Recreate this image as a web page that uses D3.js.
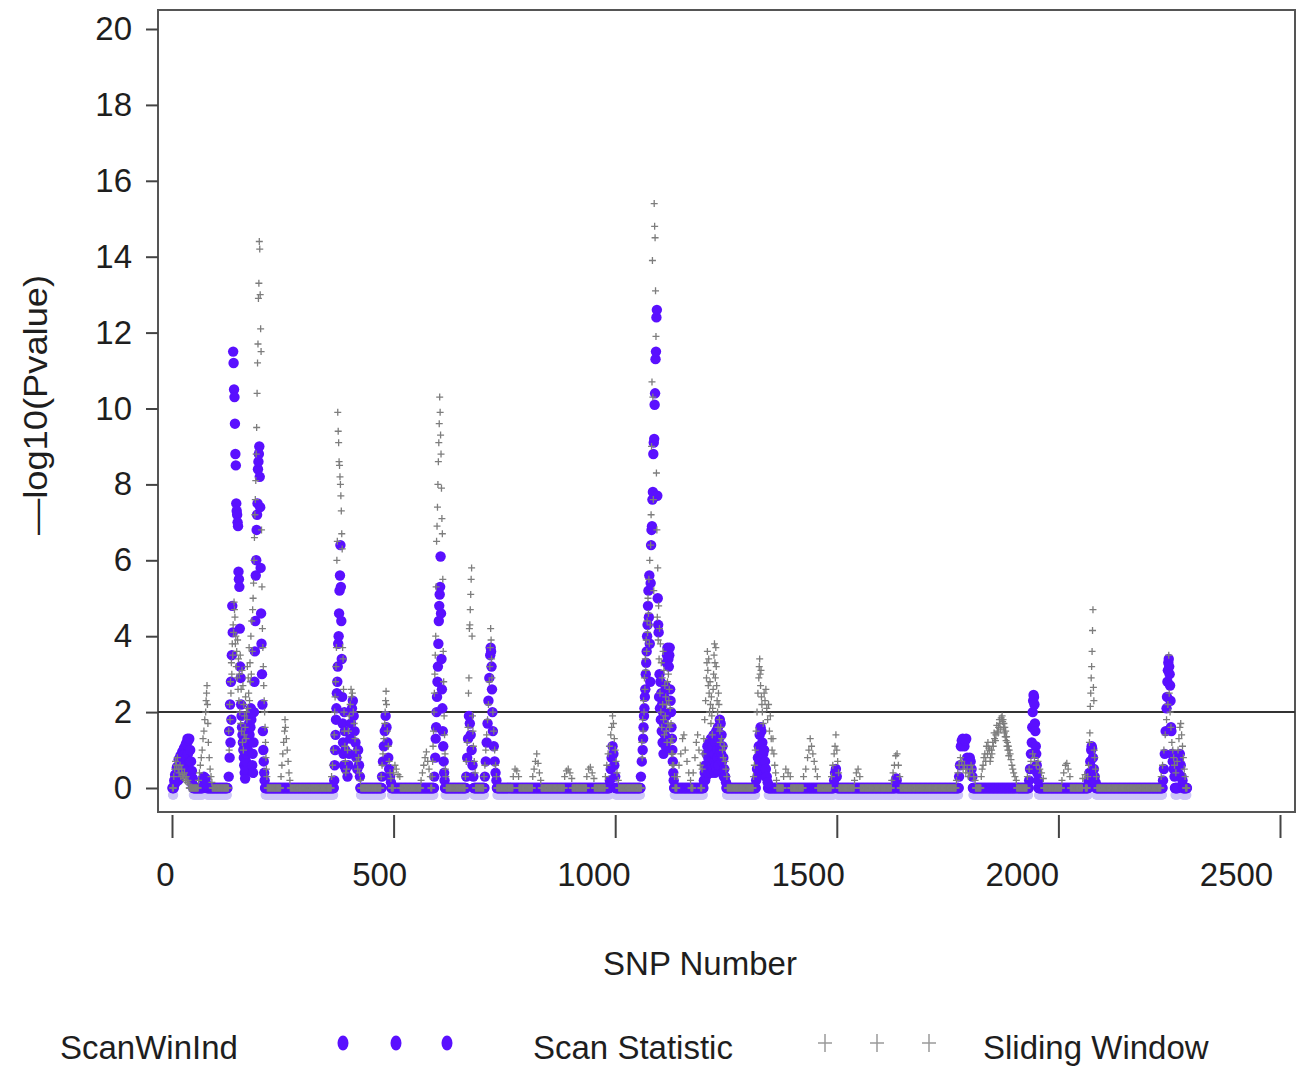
<!DOCTYPE html>
<html>
<head>
<meta charset="utf-8">
<script src="https://cdn.jsdelivr.net/npm/d3@7"></script>
<style>
  body { margin: 0; background: #fff; }
  svg text { font-family: "Liberation Sans", Arial, sans-serif; fill: #1e1e1e; }
</style>
</head>
<body>
<svg id="chart" width="1305" height="1070"></svg>
<script>
// ---- data ----------------------------------------------------------------
const xTicks = [0, 500, 1000, 1500, 2000, 2500];
const yTicks = [0, 2, 4, 6, 8, 10, 12, 14, 16, 18, 20];
const refLevel = 2;

// SNP ranges where the scan statistic is 0 (start, end inclusive)
const scanZeroRuns = [[1,4],[48,69],[79,125],[210,365],[425,473],[495,591],[616,663],[681,705],
  [733,987],[1001,1057],[1133,1199],[1251,1317],[1345,1493],[1501,1632],[1636,1775],[1807,1933],
  [1955,2067],[2085,2235],[2263,2269],[2281,2290]];

// scan statistic, SNP number and -log10(p) for non-zero SNPs
const scanPeaks = [
  [5,0.2],[6,0.1],[7,0.35],[8,0.15],[9,0.3],[10,0.2],[11,0.55],[12,0.3],[13,0.45],[14,0.2],[15,0.75],
  [16,0.4],[17,0.6],[18,0.3],[19,0.85],[20,0.5],[21,0.7],[22,0.35],[23,0.95],[24,0.6],[25,0.8],[26,0.4],
  [27,1.05],[28,0.7],[29,0.9],[30,0.5],[31,1.15],[32,0.8],[33,1.2],[34,0.6],[35,1.3],[36,0.9],[37,1.25],
  [38,0.5],[39,1.3],[40,0.7],[41,1.0],[42,0.3],[43,0.7],[44,0.2],[45,0.45],[46,0.1],[47,0.25],
  [70,0.25],[72,0.3],[74,0.2],[76,0.25],[78,0.1],
  [128,0.3],[129,1.5],[130,0.8],[131,2.2],[132,1.2],[133,2.8],[134,1.8],[135,3.5],[136,4.8],[137,4.1],
  [138,11.5],[139,11.2],[140,10.5],[141,10.3],[142,9.6],[143,8.8],[144,8.5],[145,7.5],[146,7.3],[147,7.2],
  [148,7.0],[149,6.9],[150,5.7],[151,5.5],[152,5.3],[153,4.2],[154,3.2],[155,2.9],[156,2.2],
  [157,1.9],[158,1.6],[159,1.4],[160,1.2],[161,1.0],[162,0.8],[163,0.6],[164,0.4],[165,0.25],[166,0.5],
  [167,0.7],[168,0.9],[169,1.1],[170,1.3],[171,1.0],[172,1.5],[173,1.2],[174,1.7],[175,1.4],[176,1.9],
  [177,1.6],[178,2.1],[179,1.8],[180,2.0],[181,0.6],[182,0.9],
  [183,0.4],[184,1.2],[185,2.0],[186,2.8],[187,3.6],[188,4.4],[189,5.6],[190,6.0],[191,6.8],[192,7.2],
  [193,7.5],[194,8.4],[195,8.6],[196,8.8],[197,9.0],[198,8.2],[199,7.4],[200,5.8],[201,4.6],[202,3.8],
  [203,3.0],[204,2.2],[205,1.5],[206,1.0],[207,0.7],[208,0.4],[209,0.2],
  [366,0.2],[367,0.6],[368,1.0],[369,1.4],[370,1.8],[371,2.1],[372,2.5],[373,2.8],[374,3.2],[375,3.8],
  [376,4.0],[377,4.6],[378,5.2],[379,5.6],[380,6.4],[381,5.3],[382,4.4],[383,3.4],[384,2.4],[385,1.7],
  [386,1.2],[387,0.9],[388,0.6],[389,2.0],[390,1.5],[391,1.0],[392,0.5],
  [396,0.3],[398,0.6],[400,0.9],[402,1.3],[404,1.7],[406,2.1],[408,2.3],[410,1.9],[412,1.5],[414,1.2],
  [416,0.8],[418,0.5],[420,1.0],[422,0.6],[424,0.3],
  [474,0.3],[476,0.7],[478,1.1],[480,1.5],[482,1.9],[484,1.6],[486,1.2],[488,0.8],[490,0.5],[492,0.3],[494,0.15],
  [592,0.3],[594,0.8],[595,1.3],[596,1.6],[597,2.0],[598,2.4],[599,2.8],[600,3.2],[601,3.8],[602,4.4],
  [603,4.8],[604,5.1],[605,5.3],[606,6.1],[607,4.6],[608,3.4],[609,2.6],[610,2.1],[611,1.5],[612,1.1],
  [613,0.7],[614,0.4],[615,0.2],
  [664,0.3],[666,0.8],[668,1.3],[670,1.9],[672,1.7],[674,1.4],[676,1.0],[678,0.6],[680,0.3],
  [706,0.3],[708,0.7],[710,1.2],[712,1.7],[714,2.3],[716,2.9],[718,3.5],[719,3.7],[720,3.6],[721,3.2],
  [722,2.6],[723,2.0],[724,1.5],[726,1.1],[728,0.7],[730,0.4],[732,0.2],
  [988,0.2],[990,0.5],[992,0.8],[994,1.1],[996,0.9],[998,0.6],[1000,0.3],
  [1058,0.3],[1060,0.7],[1062,1.0],[1063,1.3],[1064,1.6],[1065,1.9],[1066,2.1],[1067,2.4],[1068,2.6],
  [1069,3.0],[1070,3.3],[1071,3.6],[1072,4.0],[1073,4.3],[1074,4.8],[1075,5.2],[1076,4.5],[1077,5.6],
  [1078,3.8],[1079,2.8],[1080,5.4],[1081,6.4],[1082,6.8],[1083,6.9],[1084,7.6],[1085,7.8],[1086,8.8],
  [1087,9.1],[1088,9.2],[1089,10.1],[1090,10.4],[1091,11.3],[1092,11.5],[1093,12.4],[1094,12.6],
  [1095,7.7],[1096,5.0],[1097,4.3],[1098,4.1],[1099,2.4],
  [1100,3.0],[1101,2.1],[1102,2.8],[1103,1.8],[1104,2.5],[1105,1.5],[1106,2.2],[1107,1.2],[1108,2.0],
  [1109,0.9],[1110,1.7],[1111,2.4],[1112,1.4],[1113,2.7],[1114,1.1],[1115,1.9],[1116,3.3],[1117,3.5],
  [1118,3.7],[1119,3.6],[1120,3.4],[1121,3.2],[1122,3.5],[1123,3.7],[1124,2.6],[1125,2.3],[1126,2.0],
  [1127,1.6],[1128,1.3],[1129,1.0],[1130,0.7],[1131,0.4],[1132,0.2],
  [1200,0.2],[1202,0.4],[1203,0.2],[1204,0.6],[1205,0.3],[1206,0.9],[1207,0.5],[1208,1.1],[1209,0.4],
  [1210,0.8],[1211,0.6],[1212,1.2],[1213,0.5],[1214,1.0],[1215,0.7],[1216,1.3],[1217,0.4],[1218,0.7],
  [1219,0.6],[1220,1.1],[1221,0.5],[1222,1.4],[1223,0.7],[1224,0.9],[1225,0.4],[1226,1.2],[1227,0.6],
  [1228,1.5],[1229,0.5],[1230,1.0],[1231,0.8],[1232,1.6],[1233,0.6],[1234,1.3],[1235,0.9],[1236,1.8],
  [1237,1.1],[1238,1.7],[1239,0.9],[1240,1.4],[1241,0.7],[1242,1.1],[1243,0.4],[1244,0.8],[1245,0.3],
  [1246,0.5],[1248,0.3],[1250,0.15],
  [1318,0.2],[1320,0.5],[1321,0.3],[1322,0.8],[1323,0.5],[1324,1.1],[1325,0.7],[1326,1.4],[1327,0.9],
  [1328,1.6],[1329,1.1],[1330,1.5],[1331,0.8],[1332,1.2],[1333,0.6],[1334,0.9],[1335,0.5],[1336,1.0],
  [1337,0.4],[1338,0.7],[1339,0.3],[1340,0.5],[1342,0.3],[1344,0.15],
  [1494,0.2],[1496,0.4],[1498,0.5],[1500,0.3],
  [1633,0.2],[1634,0.25],[1635,0.2],
  [1776,0.3],[1778,0.6],[1780,1.1],[1782,1.25],[1784,1.3],[1786,1.2],[1788,1.1],[1790,1.25],[1792,1.3],
  [1794,0.8],[1796,0.7],[1798,0.6],[1800,0.8],[1802,0.7],[1804,0.5],[1806,0.3],
  [1934,0.2],[1936,0.5],[1938,0.9],[1940,1.2],[1941,1.6],[1942,2.0],[1943,2.3],[1944,2.45],[1945,2.4],
  [1946,2.2],[1947,1.7],[1948,1.5],[1949,1.1],[1950,0.9],[1951,0.6],[1952,0.4],[1954,0.2],
  [2068,0.2],[2070,0.4],[2072,0.7],[2074,1.0],[2075,1.1],[2076,1.05],[2078,0.8],[2080,0.5],[2082,0.3],[2084,0.15],
  [2236,0.2],[2238,0.5],[2240,0.9],[2242,1.5],[2244,2.1],[2245,2.4],[2246,2.8],[2247,3.1],[2248,3.3],
  [2249,3.4],[2250,3.2],[2251,3.0],[2252,2.7],[2253,2.3],[2254,1.6],[2255,1.5],[2256,0.9],[2258,0.7],
  [2260,0.5],[2262,0.3],[2270,0.4],[2272,0.7],[2274,0.9],[2276,0.6],[2278,0.3],[2280,0.2]
];

// SNP ranges where the sliding window statistic is 0
const slideZeroRuns = [[1,3],[39,59],[91,127],[215,245],[267,359],[426,471],[495,499],[515,561],
  [584,586],[619,661],[685,703],[733,769],[783,813],[833,885],[903,935],[953,977],[1008,1059],
  [1135,1139],[1171,1175],[1193,1195],[1253,1311],[1365,1379],[1396,1424],[1457,1487],[1505,1539],
  [1553,1623],[1643,1769],[1813,1825],[1906,1929],[1967,2007],[2027,2054],[2061,2065],[2087,2231],[2287,2290]];

// sliding window, SNP number and -log10(p) for non-zero SNPs
const slidePeaks = [
  [4,0.3],[6,0.5],[8,0.7],[10,0.6],[12,0.8],[14,0.5],[16,0.4],[18,0.6],[20,0.3],[22,0.5],[24,0.35],
  [26,0.25],[28,0.4],[30,0.2],[32,0.3],[34,0.15],[36,0.2],[38,0.1],
  [60,0.2],[62,0.4],[64,0.6],[66,0.8],[68,1.0],[70,1.3],[72,1.5],[74,1.8],[76,2.0],[77,2.3],[78,2.5],
  [79,2.7],[80,2.2],[81,1.7],[82,1.2],[84,0.8],[86,0.5],[88,0.3],[90,0.15],
  [128,1.5],[129,1.0],[130,2.2],[131,1.8],[132,2.8],[133,2.5],[134,3.3],[135,3.0],[136,3.8],[137,3.5],
  [138,4.3],[139,4.1],[140,4.9],[141,4.7],[142,4.5],[143,3.8],[144,4.0],[145,3.2],[146,3.6],[147,2.9],
  [148,3.9],[149,2.6],[150,3.4],[151,2.3],[152,3.0],[153,2.0],[154,3.5],[155,1.7],[156,2.6],[157,1.5],
  [158,3.1],[159,1.2],[160,2.7],[161,1.0],[162,2.2],[163,1.4],[164,1.9],[165,1.6],[166,2.4],[167,1.3],
  [168,2.0],[169,1.8],[170,3.2],[171,2.1],[172,2.9],[173,2.5],[174,3.7],[175,2.3],[176,3.3],[177,2.8],
  [178,4.0],[179,3.0],[180,4.4],[181,3.6],[182,4.7],
  [183,5.0],[184,5.4],[185,6.0],[186,6.6],[187,7.2],[188,7.6],[189,8.1],[190,8.8],[191,9.5],[192,10.4],
  [193,11.2],[194,11.7],[195,12.9],[196,13.3],[197,14.4],[198,14.2],[199,13.0],[200,12.1],[201,11.5],
  [202,6.8],[203,5.3],[204,4.2],[205,3.7],[206,3.2],[207,2.7],[208,2.3],[209,2.0],[210,1.6],[211,1.2],
  [212,0.8],[213,0.5],[214,0.3],
  [246,0.3],[248,0.6],[250,0.9],[252,1.2],[254,1.5],[255,1.8],[256,1.6],[258,1.3],[260,1.0],[262,0.7],
  [264,0.4],[266,0.2],
  [360,0.3],[362,0.6],[364,1.0],[366,1.4],[367,2.0],[368,2.4],[369,2.8],[370,3.2],[371,3.7],[372,6.0],
  [373,6.5],[374,9.9],[375,9.4],[376,9.1],[377,8.6],[378,8.5],[379,8.2],[380,8.0],[381,7.7],[382,7.3],
  [383,6.7],[384,6.3],[385,3.7],[386,3.4],[387,2.6],[388,2.0],[389,1.5],[390,1.1],[391,0.7],[392,0.4],
  [394,0.5],[396,1.0],[398,1.5],[400,1.9],[402,2.2],[404,2.6],[405,2.4],[407,2.5],[409,2.0],[411,1.7],
  [413,1.3],[415,1.0],[417,0.7],[419,0.5],[421,0.8],[423,0.4],[425,0.2],
  [472,0.3],[474,0.6],[476,0.9],[478,1.3],[480,1.7],[481,2.0],[482,2.3],[483,2.55],[484,2.2],[486,1.5],
  [488,1.1],[490,0.7],[492,0.4],[494,0.25],
  [500,0.4],[503,0.6],[506,0.5],[510,0.35],[514,0.3],
  [562,0.2],[565,0.4],[568,0.6],[571,0.8],[574,0.95],[577,0.7],[580,0.5],[583,0.3],
  [587,0.3],[588,0.7],[589,1.1],[590,1.5],[591,2.0],[592,2.5],[593,3.0],[594,3.5],[595,4.0],[596,5.3],
  [597,6.5],[598,6.9],[599,7.4],[600,8.0],[601,8.6],[602,9.1],[603,9.6],[604,10.3],[605,9.9],[606,9.3],
  [607,8.8],[608,7.9],[609,7.1],[610,6.7],[611,5.5],[612,3.6],[613,2.8],[614,1.9],[615,1.4],[616,0.9],
  [617,0.5],[618,0.3],
  [662,0.3],[664,0.7],[666,1.2],[668,1.6],[669,2.5],[670,2.9],[671,4.2],[672,4.3],[673,4.7],[674,5.1],
  [675,5.5],[676,5.8],[677,4.0],[678,1.9],[679,1.5],[680,1.1],[682,0.7],[684,0.4],
  [704,0.3],[706,0.6],[708,1.0],[710,1.4],[712,1.8],[714,2.2],[716,2.8],[717,3.2],[718,3.7],[719,4.2],
  [720,3.9],[721,3.4],[722,2.9],[724,2.0],[726,1.5],[728,1.0],[730,0.6],[732,0.3],
  [770,0.3],[774,0.5],[778,0.45],[782,0.3],
  [814,0.3],[817,0.5],[820,0.7],[823,0.9],[826,0.65],[829,0.4],[832,0.2],
  [886,0.3],[890,0.45],[894,0.5],[898,0.4],[902,0.25],
  [936,0.3],[940,0.5],[944,0.55],[948,0.4],[952,0.25],
  [978,0.3],[981,0.6],[984,0.9],[987,1.1],[990,1.4],[992,1.6],[994,1.9],[996,1.7],[998,1.3],[1000,1.0],
  [1002,0.7],[1004,0.4],[1007,0.2],
  [1060,1.2],[1061,0.8],[1062,1.8],[1063,1.5],[1064,2.3],[1065,2.0],[1066,2.9],[1067,2.6],[1068,3.4],
  [1069,3.1],[1070,3.9],[1071,3.6],[1072,4.4],[1073,4.1],[1074,5.0],[1075,4.6],[1076,5.5],[1077,3.8],
  [1078,6.0],[1079,4.3],[1080,6.4],[1081,7.2],[1082,9.0],[1083,10.7],[1084,13.9],[1085,10.3],[1086,7.6],
  [1087,5.2],[1088,15.4],[1089,14.8],[1090,14.5],[1091,13.1],[1092,11.9],[1093,8.3],[1094,6.8],[1095,4.5],
  [1096,5.8],[1097,3.9],[1098,4.8],[1099,3.4],[1100,4.2],[1101,2.5],[1102,3.8],[1103,2.0],[1104,3.3],
  [1105,1.6],[1106,2.9],[1107,2.2],[1108,3.6],[1109,1.8],[1110,3.1],[1111,1.4],[1112,2.7],[1113,1.9],
  [1114,2.4],[1115,1.5],[1116,2.2],[1117,1.2],[1118,2.8],[1119,1.7],[1120,3.0],[1121,2.3],[1122,2.6],
  [1123,1.6],[1124,2.1],[1125,1.2],[1126,1.7],[1127,0.9],[1128,1.3],[1129,0.6],[1130,0.9],[1132,0.6],[1134,0.3],
  [1140,0.3],[1144,0.6],[1148,0.9],[1152,1.3],[1155,1.4],[1158,1.0],[1162,0.7],[1166,0.4],[1170,0.2],
  [1176,0.4],[1180,0.8],[1183,1.2],[1186,1.4],[1189,1.0],[1192,0.6],
  [1196,0.5],[1198,0.9],[1200,1.3],[1202,1.8],[1204,2.3],[1206,2.9],[1207,3.3],[1208,3.6],[1209,3.1],
  [1210,2.7],[1211,3.4],[1212,2.5],[1213,2.0],[1214,2.8],[1215,2.2],[1216,1.7],[1217,2.4],[1218,1.9],
  [1219,1.4],[1220,2.1],[1221,2.6],[1222,3.0],[1223,3.5],[1224,3.8],[1225,3.3],[1226,2.9],[1227,3.7],
  [1228,3.2],[1229,2.7],[1230,2.3],[1231,2.0],[1232,1.6],[1233,2.5],[1234,2.2],[1235,1.8],[1236,1.5],
  [1237,1.2],[1238,1.6],[1240,1.3],[1242,1.0],[1244,0.8],[1246,1.1],[1248,0.7],[1250,0.5],[1252,0.3],
  [1312,0.3],[1314,0.6],[1316,1.0],[1318,1.5],[1320,2.0],[1322,2.5],[1324,2.9],[1325,3.2],[1326,3.4],
  [1327,3.0],[1328,2.7],[1329,3.1],[1330,2.4],[1331,2.2],[1332,2.0],[1334,1.7],[1336,2.5],[1338,2.3],
  [1340,2.6],[1342,2.1],[1344,1.8],[1346,2.2],[1348,1.5],[1350,1.9],[1352,1.3],[1354,1.0],[1356,1.3],
  [1358,0.9],[1360,0.6],[1362,0.4],[1364,0.2],
  [1380,0.3],[1385,0.5],[1390,0.4],[1395,0.3],
  [1425,0.3],[1430,0.5],[1434,0.8],[1437,1.0],[1440,1.3],[1443,1.1],[1446,0.9],[1449,0.7],[1452,0.5],[1456,0.3],
  [1488,0.3],[1491,0.6],[1494,0.9],[1496,1.1],[1498,1.4],[1500,1.0],[1502,0.7],[1504,0.4],
  [1540,0.2],[1544,0.4],[1548,0.5],[1552,0.3],
  [1624,0.2],[1627,0.4],[1630,0.6],[1633,0.85],[1636,0.9],[1639,0.6],[1642,0.3],
  [1770,0.2],[1773,0.4],[1776,0.6],[1779,0.8],[1782,0.7],[1785,0.5],[1788,0.6],[1791,0.4],[1794,0.5],
  [1797,0.3],[1800,0.4],[1803,0.6],[1806,0.5],[1809,0.3],[1812,0.2],
  [1826,0.3],[1828,0.5],[1830,0.6],[1832,0.8],[1834,0.9],[1836,0.7],[1838,1.1],[1840,0.9],[1841,1.2],
  [1843,1.05],[1844,1.0],[1846,0.7],[1847,0.8],[1849,1.0],[1850,0.9],[1852,1.2],[1853,1.1],[1855,1.45],
  [1856,1.3],[1858,1.25],[1859,1.4],[1861,1.65],[1862,1.5],[1864,1.45],[1865,1.6],[1867,1.8],[1868,1.7],
  [1870,1.55],[1871,1.85],[1873,1.9],[1874,1.75],[1875,1.8],[1876,1.6],[1877,1.7],[1878,1.45],[1879,1.6],
  [1880,1.35],[1881,1.5],[1882,1.25],[1883,1.35],[1884,1.1],[1885,1.2],[1886,1.0],[1887,1.1],[1888,0.85],
  [1889,1.0],[1891,0.9],[1893,0.75],[1895,0.6],[1897,0.5],[1899,0.4],[1902,0.3],[1905,0.2],
  [1930,0.3],[1934,0.5],[1938,0.7],[1942,0.9],[1946,0.8],[1950,0.6],[1954,0.7],[1958,0.5],[1962,0.4],[1966,0.25],
  [2008,0.2],[2012,0.4],[2016,0.6],[2019,0.65],[2022,0.5],[2026,0.3],
  [2055,0.25],[2060,0.35],
  [2066,0.3],[2068,0.6],[2070,1.2],[2071,1.45],[2072,2.15],[2073,2.5],[2074,2.9],[2075,3.2],[2076,3.6],
  [2077,4.15],[2078,4.7],[2079,2.65],[2080,2.3],[2081,1.0],[2082,0.8],[2084,0.5],[2086,0.3],
  [2232,0.3],[2235,0.6],[2238,1.0],[2241,1.4],[2244,1.8],[2247,2.2],[2249,3.5],[2250,2.5],[2252,2.0],
  [2254,1.6],[2256,1.2],[2258,1.0],[2260,0.8],[2262,0.6],[2265,0.4],[2268,0.7],[2270,1.0],[2272,1.3],
  [2274,1.6],[2276,1.7],[2278,1.4],[2280,1.1],[2282,0.8],[2284,0.5],[2286,0.3]
];

const legendLabels = ["ScanWinInd", "Scan Statistic", "Sliding Window"];

// ---- build series -------------------------------------------------------
function buildSeries(zeroRuns, peaks) {
  var out = [];
  zeroRuns.forEach(function (run) {
    for (var s = run[0]; s <= run[1]; s++) out.push({ snp: s, value: 0 });
  });
  peaks.forEach(function (p) { out.push({ snp: p[0], value: p[1] }); });
  return out;
}
var scanData = buildSeries(scanZeroRuns, scanPeaks);
var slideData = buildSeries(slideZeroRuns, slidePeaks);

// ---- layout -------------------------------------------------------------
var svg = d3.select("#chart");
var frame = { left: 158, top: 10, right: 1295, bottom: 812 };

var x = d3.scaleLinear().domain([0, 2500]).range([172, 1280]);
// tick labels sit slightly left of their ticks in the original
var xLabelPos = d3.scaleLinear().domain([0, 2500]).range([165, 1236]);
var y = d3.scaleLinear().domain([0, 20]).range([788, 29]);

var purple = "#5a10ff";
var plusColor = "#7d7d7d";

// plot frame
svg.append("rect")
  .attr("x", frame.left).attr("y", frame.top)
  .attr("width", frame.right - frame.left).attr("height", frame.bottom - frame.top)
  .attr("fill", "none").attr("stroke", "#555").attr("stroke-width", 2);

// y axis
var yAxis = svg.append("g")
  .attr("transform", "translate(" + frame.left + ",0)")
  .call(d3.axisLeft(y).tickValues(yTicks).tickSize(12).tickPadding(14));
yAxis.select(".domain").remove();
yAxis.selectAll(".tick line").attr("stroke", "#444").attr("stroke-width", 2);
yAxis.selectAll(".tick text").style("font-size", "33px").attr("fill", "#1e1e1e");

// x axis: tick marks
var xAxis = svg.append("g")
  .attr("transform", "translate(0," + (frame.bottom + 3) + ")")
  .call(d3.axisBottom(x).tickValues(xTicks).tickSize(23).tickFormat(""));
xAxis.select(".domain").remove();
xAxis.selectAll(".tick line").attr("stroke", "#444").attr("stroke-width", 2);

// x axis: labels
var xLab = svg.append("g")
  .attr("transform", "translate(0,886)")
  .call(d3.axisBottom(xLabelPos).tickValues(xTicks).tickSize(0).tickPadding(0)
    .tickFormat(d3.format("d")));
xLab.select(".domain").remove();
xLab.selectAll(".tick line").remove();
xLab.selectAll(".tick text").attr("y", 0).attr("dy", 0)
  .style("font-size", "33px").attr("fill", "#1e1e1e");

// reference line at -log10(p) = 2
svg.append("line")
  .attr("x1", frame.left).attr("x2", frame.right)
  .attr("y1", y(refLevel)).attr("y2", y(refLevel))
  .attr("stroke", "#333").attr("stroke-width", 2);

// axis titles
svg.append("text")
  .attr("x", 700).attr("y", 975)
  .attr("text-anchor", "middle")
  .style("font-size", "33px")
  .text("SNP Number");

svg.append("text")
  .attr("transform", "translate(47,405) rotate(-90) scale(1.1,1)")
  .attr("text-anchor", "middle")
  .style("font-size", "33px")
  .text("—log10(Pvalue)");

// ---- marks --------------------------------------------------------------
var plot = svg.append("g");

// pale halo under the zero-level dots
plot.append("g")
  .selectAll("circle")
  .data(scanData.filter(function (d) { return d.value === 0; }))
  .enter()
  .append("circle")
  .attr("cx", function (d) { return x(d.snp); })
  .attr("cy", function (d) { return y(d.value) + 7; })
  .attr("r", 4.5)
  .attr("fill", "#cdc5f8");

plot.append("g")
  .selectAll("circle")
  .data(scanData)
  .enter()
  .append("circle")
  .attr("cx", function (d) { return x(d.snp); })
  .attr("cy", function (d) { return y(d.value); })
  .attr("r", 5.2)
  .attr("fill", purple);

var plusPath = "M-3.5,0H3.5M0,-3.5V3.5";
plot.append("g")
  .selectAll("path")
  .data(slideData)
  .enter()
  .append("path")
  .attr("d", plusPath)
  .attr("transform", function (d) { return "translate(" + x(d.snp) + "," + y(d.value) + ")"; })
  .attr("stroke", plusColor)
  .attr("stroke-width", 1.3)
  .attr("fill", "none");

// ---- legend -------------------------------------------------------------
var legend = svg.append("g");
var legY = 1043;

legend.append("text").attr("x", 60).attr("y", 1059)
  .style("font-size", "33px").text(legendLabels[0]);

legend.selectAll("ellipse")
  .data([343, 396, 447])
  .enter()
  .append("ellipse")
  .attr("cx", function (d) { return d; })
  .attr("cy", legY)
  .attr("rx", 5.5).attr("ry", 7.5)
  .attr("fill", purple);

legend.append("text").attr("x", 533).attr("y", 1059)
  .style("font-size", "33px").text(legendLabels[1]);

legend.selectAll("path.leg")
  .data([825, 877, 929])
  .enter()
  .append("path")
  .attr("class", "leg")
  .attr("d", "M-7,0H7M0,-9V9")
  .attr("transform", function (d) { return "translate(" + d + "," + legY + ")"; })
  .attr("stroke", "#9a9a9a")
  .attr("stroke-width", 1.5)
  .attr("fill", "none");

legend.append("text").attr("x", 983).attr("y", 1059)
  .style("font-size", "33px").text(legendLabels[2]);
</script>
</body>
</html>
